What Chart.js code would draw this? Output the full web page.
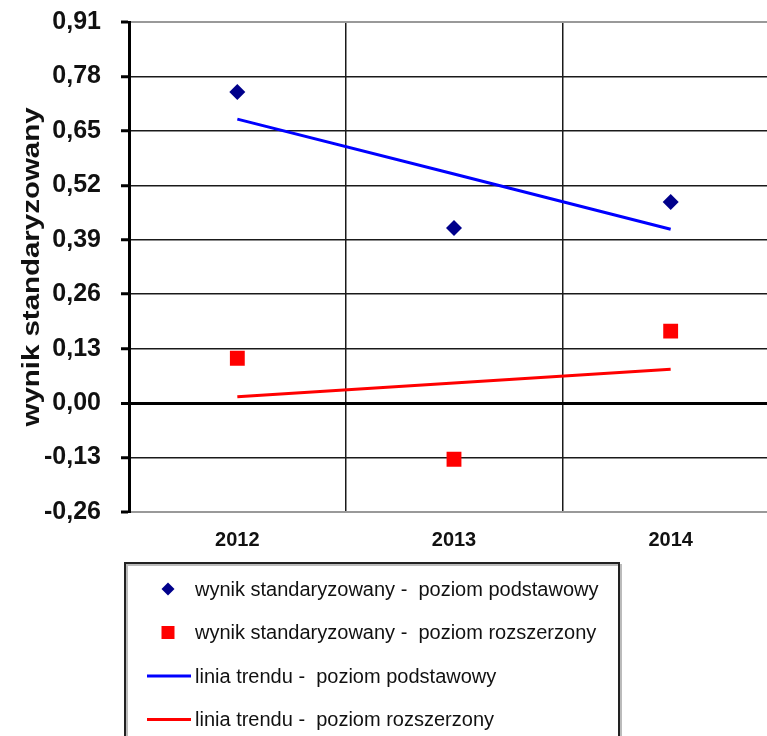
<!DOCTYPE html>
<html lang="pl">
<head>
<meta charset="utf-8">
<title>wynik standaryzowany 2012–2014</title>
<script src="https://cdn.jsdelivr.net/npm/chart.js@4/dist/chart.umd.min.js"></script>
<style>
  html, body { margin: 0; padding: 0; background: #fff; overflow: hidden; }
  #wrap { width: 800px; height: 736px; }
</style>
</head>
<body>
<div id="wrap"><canvas id="chart" width="800" height="736"></canvas></div>
<script>
// Lata egzaminu
const years = ['2012', '2013', '2014'];
// Wynik standaryzowany – poziom podstawowy / rozszerzony
const basicScores = [0.743, 0.418, 0.480];
const extendedScores = [0.107, -0.134, 0.172];
// Linie trendu dla obu poziomów
const basicTrend = [0.678, 0.547, 0.415];
const extendedTrend = [0.015, 0.048, 0.081];
// Podziałka osi Y
const yTicks = [-0.26, -0.13, 0.00, 0.13, 0.26, 0.39, 0.52, 0.65, 0.78, 0.91];

const yTitle = 'wynik standaryzowany';
const FONT = "'Liberation Sans', Arial, sans-serif";

// Rotated, slightly widened axis title
const axisTitlePlugin = {
  id: 'axisTitle',
  afterDraw(chart) {
    const ctx = chart.ctx;
    const area = chart.chartArea;
    ctx.save();
    ctx.translate(33, (area.top + area.bottom) / 2);
    ctx.rotate(-Math.PI / 2);
    ctx.scale(1.28, 1);
    ctx.font = 'bold 23px ' + FONT;
    ctx.fillStyle = '#111';
    ctx.textAlign = 'center';
    ctx.textBaseline = 'middle';
    ctx.fillText(yTitle, 0, 0);
    ctx.restore();
  }
};

// Boxed legend below the plot, one entry per line
const boxLegendPlugin = {
  id: 'boxLegend',
  afterDraw(chart) {
    const ctx = chart.ctx;
    const left = 125, top = 563, width = 494, rowGap = 43.5;
    ctx.save();
    ctx.strokeStyle = '#bbb';
    ctx.lineWidth = 2;
    ctx.strokeRect(left + 2, top + 2, width, 400);
    ctx.strokeStyle = '#222';
    ctx.lineWidth = 2;
    ctx.strokeRect(left, top, width, 400);
    chart.data.datasets.forEach((ds, i) => {
      const cy = top + 26 + i * rowGap;
      const mx = 168;
      if (ds.showLine === false) {
        ctx.fillStyle = ds.pointBackgroundColor;
        ctx.beginPath();
        if (ds.pointStyle === 'rectRot') {
          const r = 6.5;
          ctx.moveTo(mx - r, cy);
          ctx.lineTo(mx, cy - r);
          ctx.lineTo(mx + r, cy);
          ctx.lineTo(mx, cy + r);
          ctx.closePath();
        } else {
          ctx.rect(mx - 6.5, cy - 6.5, 13, 13);
        }
        ctx.fill();
      } else {
        ctx.strokeStyle = ds.borderColor;
        ctx.lineWidth = ds.borderWidth;
        ctx.beginPath();
        ctx.moveTo(147, cy);
        ctx.lineTo(191, cy);
        ctx.stroke();
      }
      ctx.font = '20px ' + FONT;
      ctx.fillStyle = '#111';
      ctx.textAlign = 'left';
      ctx.textBaseline = 'middle';
      ctx.fillText(ds.label, 195, cy + 1);
    });
    ctx.restore();
  }
};

const gridColor = (ctx) => {
  const v = ctx.tick ? ctx.tick.value : null;
  if (v === 0) return '#000';
  if (v === yTicks[0] || v === yTicks[yTicks.length - 1]) return '#999';
  return '#1a1a1a';
};
const gridWidth = (ctx) => {
  const v = ctx.tick ? ctx.tick.value : null;
  if (v === 0) return 3;
  if (v === yTicks[0] || v === yTicks[yTicks.length - 1]) return 2;
  return 1.5;
};

new Chart(document.getElementById('chart'), {
  type: 'line',
  data: {
    labels: years,
    datasets: [
      {
        label: 'wynik standaryzowany -  poziom podstawowy',
        data: basicScores,
        showLine: false,
        pointStyle: 'rectRot',
        pointRadius: 8,
        pointBackgroundColor: '#00008b',
        pointBorderColor: '#00008b',
        pointBorderWidth: 0
      },
      {
        label: 'wynik standaryzowany -  poziom rozszerzony',
        data: extendedScores,
        showLine: false,
        pointStyle: 'rect',
        pointRadius: 10.5,
        pointBackgroundColor: '#ff0000',
        pointBorderColor: '#ff0000',
        pointBorderWidth: 0
      },
      {
        label: 'linia trendu -  poziom podstawowy',
        data: basicTrend,
        borderColor: '#0000ff',
        borderWidth: 3,
        pointRadius: 0,
        tension: 0
      },
      {
        label: 'linia trendu -  poziom rozszerzony',
        data: extendedTrend,
        borderColor: '#ff0000',
        borderWidth: 3,
        pointRadius: 0,
        tension: 0
      }
    ]
  },
  options: {
    responsive: false,
    animation: false,
    devicePixelRatio: 1,
    layout: { padding: { top: 22, right: 21, left: 0, bottom: 0 } },
    plugins: {
      legend: { display: false },
      tooltip: { enabled: false }
    },
    scales: {
      x: {
        type: 'category',
        offset: true,
        grid: { offset: true, color: '#1a1a1a', lineWidth: 1.5, drawTicks: false },
        border: { display: true, color: '#999', width: 2 },
        ticks: { color: '#111', font: { family: FONT, size: 20, weight: 'bold' }, padding: 16, maxRotation: 0 },
        afterFit(scale) {
          scale.height = 224;
          scale.paddingLeft = 0;
          scale.paddingRight = 0;
        }
      },
      y: {
        min: yTicks[0],
        max: yTicks[yTicks.length - 1],
        afterBuildTicks(scale) { scale.ticks = yTicks.map(v => ({ value: v })); },
        grid: { color: gridColor, lineWidth: gridWidth, tickColor: '#000', tickWidth: 3, tickLength: 8 },
        border: { display: true, color: '#000', width: 3 },
        ticks: {
          color: '#111',
          font: { family: FONT, size: 25, weight: 'bold' },
          padding: 20,
          callback: (v) => Number(v).toFixed(2).replace('.', ',')
        },
        afterFit(scale) {
          scale.width = 129;
          scale.paddingTop = 0;
          scale.paddingBottom = 0;
        }
      }
    }
  },
  plugins: [axisTitlePlugin, boxLegendPlugin]
});
</script>
</body>
</html>
